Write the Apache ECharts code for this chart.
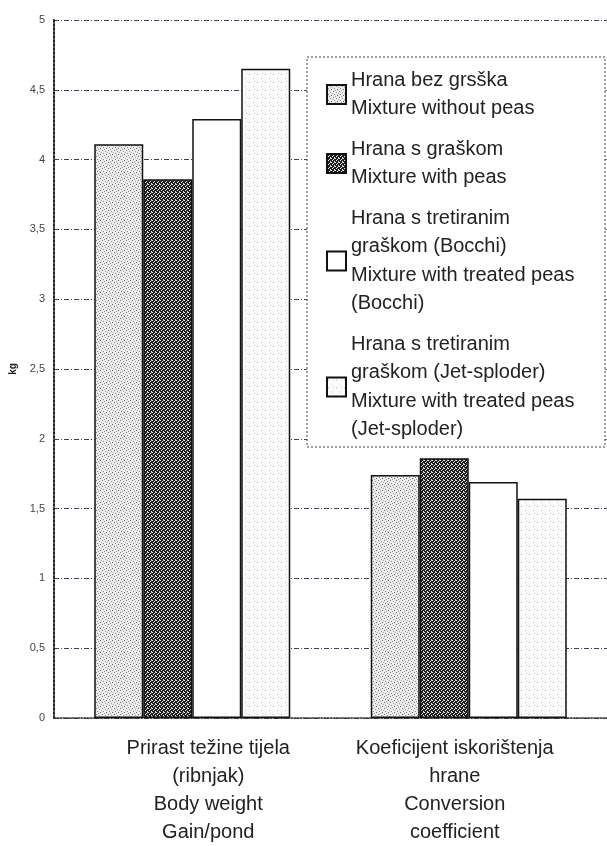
<!DOCTYPE html>
<html>
<head>
<meta charset="utf-8">
<script src="https://cdn.jsdelivr.net/npm/echarts@6/dist/echarts.min.js"></script>
<style>
  html, body { margin: 0; padding: 0; background: #fff; }
  #chart { width: 607px; height: 846px; }
</style>
</head>
<body>
<div id="chart"></div>
<script>
// kategorije na osi x
const categories = [
  'Prirast težine tijela\n(ribnjak)\nBody weight\nGain/pond',
  'Koeficijent iskorištenja\nhrane\nConversion\ncoefficient'
];

// nazivi serija (legenda)
const seriesNames = [
  'Hrana bez grsška\nMixture without peas',
  'Hrana s graškom\nMixture with peas',
  'Hrana s tretiranim\ngraškom (Bocchi)\nMixture with treated peas\n(Bocchi)',
  'Hrana s tretiranim\ngraškom (Jet-sploder)\nMixture with treated peas\n(Jet-sploder)'
];

// vrijednosti (kg)
const withoutPeas = [4.11, 1.74];
const withPeas = [3.86, 1.86];
const treatedBocchi = [4.29, 1.69];
const treatedJet = [4.65, 1.57];

// y os
const yMin = 0, yMax = 5, yStep = 0.5;

// uzorci za ispunu stupaca (samo tekstura, ne podaci)
function makePattern(size, bg, dots) {
  const c = document.createElement('canvas');
  c.width = size; c.height = size;
  const ctx = c.getContext('2d');
  ctx.fillStyle = bg;
  ctx.fillRect(0, 0, size, size);
  dots.forEach(d => {
    ctx.fillStyle = d[2];
    ctx.fillRect(d[0], d[1], 1, 1);
  });
  return c;
}

const stipple = makePattern(6, '#ececec', [
  [0, 0, '#777'], [3, 1, '#999'], [1, 3, '#888'], [4, 4, '#666'], [5, 2, '#aaa'], [2, 5, '#999']
]);
const hatch = makePattern(4, '#1e1e1e', [
  [0, 0, '#f0f0f0'], [2, 1, '#e0e0e0'], [1, 2, '#f0f0f0'], [3, 3, '#e0e0e0'], [3, 0, '#bbb']
]);
const lightStipple = makePattern(8, '#fbfbfb', [
  [1, 2, '#bbb'], [5, 6, '#ccc'], [6, 1, '#d0d0d0']
]);

const fills = [
  { image: stipple, repeat: 'repeat' },
  { image: hatch, repeat: 'repeat' },
  '#ffffff',
  { image: lightStipple, repeat: 'repeat' }
];
const seriesData = [withoutPeas, withPeas, treatedBocchi, treatedJet];

const myChart = echarts.init(document.getElementById('chart'));

const labelFont = { fontSize: 20, lineHeight: 28, color: '#222' };

const option = {
  animation: false,
  backgroundColor: '#fff',
  textStyle: { fontFamily: 'Liberation Sans, Arial, sans-serif' },
  grid: { left: 48, right: 0, top: 20, bottom: 126 },
  legend: {
    orient: 'vertical',
    left: 307,
    top: 57,
    padding: [9, 31, 4, 19],
    backgroundColor: '#fff',
    icon: 'rect',
    itemWidth: 19,
    itemHeight: 19,
    itemGap: 12,
    textStyle: { fontSize: 20, lineHeight: 28.5, color: '#222' },
    data: seriesNames
  },
  xAxis: {
    type: 'category',
    data: categories,
    axisLine: { lineStyle: { color: '#333', type: 'dotted', width: 1.5 } },
    axisTick: { show: false },
    axisLabel: {
      margin: 16,
      interval: 0,
      ...labelFont,
      // prvi natpis malo desno, drugi malo lijevo (kao na slici)
      formatter: (v, idx) => v.split('\n')
        .map(l => (idx === 0 ? '{a|' : '{b|') + l + '}').join('\n'),
      rich: {
        a: { ...labelFont, padding: [0, 0, 0, 32] },
        b: { ...labelFont, padding: [0, 28, 0, 0] }
      }
    }
  },
  yAxis: {
    type: 'value',
    min: yMin,
    max: yMax,
    interval: yStep,
    name: 'kg',
    nameLocation: 'middle',
    nameRotate: 90,
    nameGap: 36,
    nameTextStyle: { fontSize: 10, fontWeight: 'bold', color: '#222' },
    axisLine: { show: true, lineStyle: { color: '#222', type: 'dotted', width: 2 } },
    axisTick: { show: false },
    axisLabel: {
      margin: 9,
      fontSize: 11,
      color: '#444',
      formatter: v => String(v).replace('.', ',')
    },
    splitLine: {
      show: true,
      lineStyle: { color: '#3e4058', type: [5, 2, 1, 2], width: 1 }
    }
  },
  graphic: [{
    type: 'rect',
    z: 100,
    shape: { x: 307, y: 57, width: 298, height: 390 },
    style: { fill: null, stroke: '#444', lineWidth: 1, lineDash: [2, 2] }
  }],
  series: seriesNames.map((name, i) => ({
    name: name,
    type: 'bar',
    data: seriesData[i],
    barWidth: 49,
    barGap: '0%',
    itemStyle: {
      color: fills[i],
      borderColor: '#111',
      borderWidth: 1.5
    }
  }))
};

myChart.setOption(option);
</script>
</body>
</html>
